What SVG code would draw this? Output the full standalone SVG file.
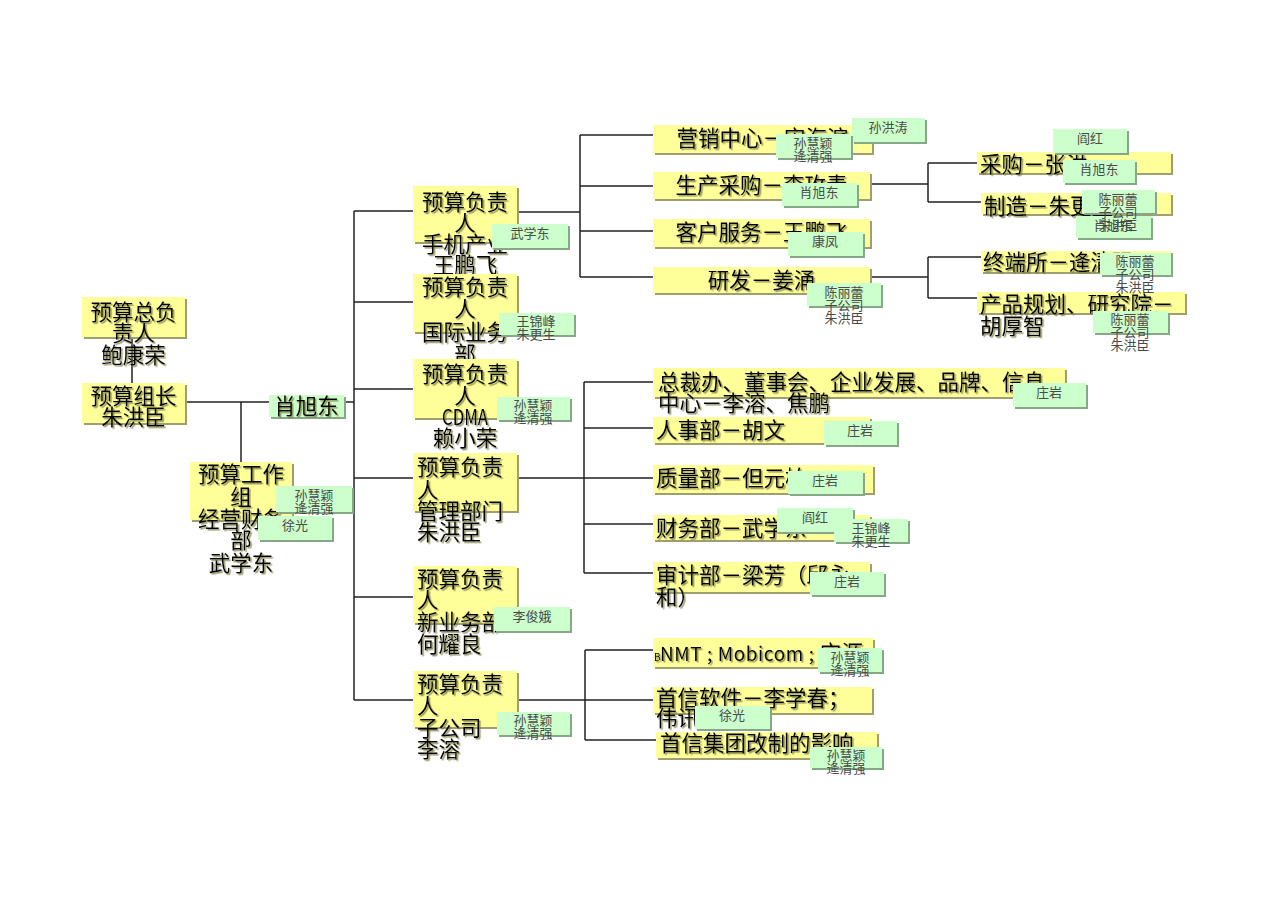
<svg xmlns="http://www.w3.org/2000/svg" width="1286" height="909" viewBox="0 0 1286 909">
<defs>
<filter id="sh" x="-10%" y="-20%" width="130%" height="150%">
<feDropShadow dx="1.5" dy="1.5" stdDeviation="0.4" flood-color="#7d7d45" flood-opacity="0.85"/>
</filter>
<style>
.ys{fill:#9e9e70}
.yb{fill:#FFFF99}
.gs{fill:#86a886}
.gb{fill:#CCFFCC}
.t{font-family:"Noto Sans CJK SC","Liberation Sans",sans-serif;font-size:21.5px;fill:#000;filter:url(#sh)}
.c{text-anchor:middle}
.n{font-family:"Noto Sans CJK SC","Liberation Sans",sans-serif;font-size:13px;fill:#4a4a4a;text-anchor:middle}
.ln{stroke:#222;stroke-width:1.5;fill:none}
</style>
</defs>
<rect width="1286" height="909" fill="#fff"/>
<g id="connectors" class="ln">
<path d="M132 338V383"/>
<path d="M185 402H354"/>
<path d="M241 402V462"/>
<path d="M354 211V700"/>
<path d="M354 211H413M354 302H413M354 389H413M354 478H413M354 597H413M354 700H413"/>
<path d="M517 212H580M580 135V277M580 135H653M580 186H653M580 231H653M580 277H653"/>
<path d="M870 184H928M928 163V202M928 163H977M928 202H981"/>
<path d="M870 277H928M928 257V298M928 257H981M928 298H977"/>
<path d="M517 478H584M584 382V573M584 382H653M584 428H653M584 478H653M584 524H653M584 573H653"/>
<path d="M517 700H585M585 650V740M585 650H653M585 700H653M585 740H656"/>
</g>
<g id="n-bao">
<rect class="ys" x="84" y="299" width="103" height="40"/><rect class="yb" x="82" y="297" width="103" height="40"/>
<text class="t c" x="133.5"><tspan x="133.5" y="320">预算总负</tspan><tspan x="133.5" y="341">责人</tspan><tspan x="133.5" y="363">鲍康荣</tspan></text>
</g>
<g id="n-zhu">
<rect class="ys" x="84" y="385" width="103" height="40"/><rect class="yb" x="82" y="383" width="103" height="40"/>
<text class="t c"><tspan x="133.5" y="404">预算组长</tspan><tspan x="133.5" y="425">朱洪臣</tspan></text>
</g>
<g id="n-xiao">
<rect class="gs" x="271" y="397" width="75" height="22"/><rect class="gb" x="269" y="395" width="75" height="22"/>
<text class="t c" x="306.5" y="414">肖旭东</text>
</g>
<g id="n-work">
<rect class="ys" x="192" y="464" width="102" height="58"/><rect class="yb" x="190" y="462" width="102" height="58"/>
<text class="t c"><tspan x="241" y="482">预算工作</tspan><tspan x="241" y="505">组</tspan><tspan x="241" y="527">经营财务</tspan><tspan x="241" y="548">部</tspan><tspan x="241" y="571">武学东</tspan></text>
</g>
<g id="n-phone">
<rect class="ys" x="415" y="188" width="104" height="56"/><rect class="yb" x="413" y="186" width="104" height="56"/>
<text class="t c"><tspan x="465" y="210">预算负责</tspan><tspan x="465" y="231">人</tspan><tspan x="465" y="252">手机产业</tspan><tspan x="465" y="273">王鹏飞</tspan></text>
</g>
<g id="n-intl">
<rect class="ys" x="415" y="276" width="104" height="58"/><rect class="yb" x="413" y="274" width="104" height="58"/>
<text class="t c"><tspan x="465" y="295">预算负责</tspan><tspan x="465" y="317">人</tspan><tspan x="465" y="340">国际业务</tspan><tspan x="465" y="362">部</tspan></text>
</g>
<g id="n-cdma">
<rect class="ys" x="415" y="361" width="104" height="59"/><rect class="yb" x="413" y="359" width="104" height="59"/>
<text class="t c"><tspan x="465" y="382">预算负责</tspan><tspan x="465" y="404">人</tspan><tspan x="465" y="425" textLength="46" lengthAdjust="spacingAndGlyphs">CDMA</tspan><tspan x="465" y="446">赖小荣</tspan></text>
</g>
<g id="n-mgmt">
<rect class="ys" x="415" y="455" width="104" height="58"/><rect class="yb" x="413" y="453" width="104" height="58"/>
<text class="t"><tspan x="417" y="475">预算负责</tspan><tspan x="417" y="498">人</tspan><tspan x="417" y="519">管理部门</tspan><tspan x="417" y="540">朱洪臣</tspan></text>
</g>
<g id="n-new">
<rect class="ys" x="415" y="568" width="104" height="57"/><rect class="yb" x="413" y="566" width="104" height="57"/>
<text class="t"><tspan x="417" y="587">预算负责</tspan><tspan x="417" y="608">人</tspan><tspan x="417" y="630">新业务部</tspan><tspan x="417" y="652">何耀良</tspan></text>
</g>
<g id="n-sub">
<rect class="ys" x="415" y="673" width="104" height="56"/><rect class="yb" x="413" y="671" width="104" height="56"/>
<text class="t"><tspan x="417" y="692">预算负责</tspan><tspan x="417" y="714">人</tspan><tspan x="417" y="736">子公司</tspan><tspan x="417" y="757">李溶</tspan></text>
</g>
<g id="n-mkt">
<rect class="ys" x="655" y="127" width="219" height="28"/><rect class="yb" x="653" y="125" width="219" height="28"/>
<text class="t c" x="762.5" y="146">营销中心－宋海滨</text>
</g>
<g id="n-prod">
<rect class="ys" x="655" y="174" width="217" height="27"/><rect class="yb" x="653" y="172" width="217" height="27"/>
<text class="t c" x="761.5" y="193">生产采购－李玫青</text>
</g>
<g id="n-cs">
<rect class="ys" x="655" y="221" width="217" height="28"/><rect class="yb" x="653" y="219" width="217" height="28"/>
<text class="t c" x="761.5" y="240">客户服务－王鹏飞</text>
</g>
<g id="n-rd">
<rect class="ys" x="655" y="269" width="217" height="26"/><rect class="yb" x="653" y="267" width="217" height="26"/>
<text class="t c" x="761.5" y="288">研发－姜涌</text>
</g>
<g id="n-buy">
<rect class="ys" x="979" y="154" width="194" height="21"/><rect class="yb" x="977" y="152" width="194" height="21"/>
<text class="t" x="980" y="172">采购－张洪</text>
</g>
<g id="n-make">
<rect class="ys" x="983" y="195" width="190" height="21"/><rect class="yb" x="981" y="193" width="190" height="21"/>
<text class="t" x="984" y="214">制造－朱更生</text>
</g>
<g id="n-term">
<rect class="ys" x="983" y="253" width="190" height="21"/><rect class="yb" x="981" y="251" width="190" height="21"/>
<text class="t" x="983" y="270">终端所－逄清强</text>
</g>
<g id="n-plan">
<rect class="ys" x="979" y="294" width="208" height="21"/><rect class="yb" x="977" y="292" width="208" height="21"/>
<text class="t"><tspan x="980" y="312">产品规划、研究院－</tspan><tspan x="980" y="334">胡厚智</tspan></text>
</g>
<g id="n-office">
<rect class="ys" x="655" y="370" width="412" height="29"/><rect class="yb" x="653" y="368" width="412" height="29"/>
<text class="t"><tspan x="658" y="390">总裁办、董事会、企业发展、品牌、信息</tspan><tspan x="658" y="411">中心－李溶、焦鹏</tspan></text>
</g>
<g id="n-hr">
<rect class="ys" x="655" y="419" width="217" height="26"/><rect class="yb" x="653" y="417" width="217" height="26"/>
<text class="t" x="656" y="438">人事部－胡文</text>
</g>
<g id="n-qa">
<rect class="ys" x="655" y="467" width="220" height="28"/><rect class="yb" x="653" y="465" width="220" height="28"/>
<text class="t" x="656" y="486">质量部－但元柏</text>
</g>
<g id="n-fin">
<rect class="ys" x="655" y="517" width="217" height="25"/><rect class="yb" x="653" y="515" width="217" height="25"/>
<text class="t" x="656" y="536">财务部－武学东</text>
</g>
<g id="n-audit">
<rect class="ys" x="655" y="564" width="217" height="30"/><rect class="yb" x="653" y="562" width="217" height="30"/>
<text class="t"><tspan x="656" y="583">审计部－梁芳（邱永</tspan><tspan x="656" y="605">和）</tspan></text>
</g>
<g id="n-nmt">
<rect class="ys" x="655" y="640" width="220" height="29"/><rect class="yb" x="653" y="638" width="220" height="29"/>
<text class="t" y="661"><tspan x="654" font-size="10">B</tspan><tspan x="660" font-size="19" textLength="154" lengthAdjust="spacing">NMT ; Mobicom ;</tspan><tspan x="820">宝源</tspan></text>
</g>
<g id="n-soft">
<rect class="ys" x="655" y="689" width="219" height="26"/><rect class="yb" x="653" y="687" width="219" height="26"/>
<text class="t"><tspan x="656" y="706">首信软件－李学春；</tspan><tspan x="656" y="726">伟讯</tspan></text>
</g>
<g id="n-group">
<rect class="ys" x="658" y="734" width="221" height="26"/><rect class="yb" x="656" y="732" width="221" height="26"/>
<text class="t" x="660" y="751">首信集团改制的影响</text>
</g>
<g id="notes">
<g id="note1"><rect class="gs" x="278" y="488" width="76" height="26"/><rect class="gb" x="276" y="486" width="76" height="26"/><text class="n"><tspan x="314" y="500">孙慧颖</tspan><tspan x="314" y="513">逄清强</tspan></text></g>
<g id="note2"><rect class="gs" x="260" y="518" width="74" height="24"/><rect class="gb" x="258" y="516" width="74" height="24"/><text class="n" x="295" y="530">徐光</text></g>
<g id="note3"><rect class="gs" x="494" y="226" width="76" height="24"/><rect class="gb" x="492" y="224" width="76" height="24"/><text class="n" x="530" y="238">武学东</text></g>
<g id="note4"><rect class="gs" x="501" y="315" width="75" height="22"/><rect class="gb" x="499" y="313" width="75" height="22"/><text class="n"><tspan x="536" y="326">王锦峰</tspan><tspan x="536" y="339">朱更生</tspan></text></g>
<g id="note5"><rect class="gs" x="499" y="399" width="73" height="23"/><rect class="gb" x="497" y="397" width="73" height="23"/><text class="n"><tspan x="533" y="410">孙慧颖</tspan><tspan x="533" y="423">逄清强</tspan></text></g>
<g id="note6"><rect class="gs" x="496" y="609" width="76" height="24"/><rect class="gb" x="494" y="607" width="76" height="24"/><text class="n" x="532" y="621">李俊娥</text></g>
<g id="note7"><rect class="gs" x="499" y="714" width="73" height="23"/><rect class="gb" x="497" y="712" width="73" height="23"/><text class="n"><tspan x="533" y="725">孙慧颖</tspan><tspan x="533" y="738">逄清强</tspan></text></g>
<g id="note8"><rect class="gs" x="854" y="120" width="73" height="24"/><rect class="gb" x="852" y="118" width="73" height="24"/><text class="n" x="888" y="132">孙洪涛</text></g>
<g id="note9"><rect class="gs" x="778" y="136" width="75" height="24"/><rect class="gb" x="776" y="134" width="75" height="24"/><text class="n"><tspan x="813" y="148">孙慧颖</tspan><tspan x="813" y="161">逄清强</tspan></text></g>
<g id="note10"><rect class="gs" x="784" y="185" width="75" height="23"/><rect class="gb" x="782" y="183" width="75" height="23"/><text class="n" x="819" y="197">肖旭东</text></g>
<g id="note11"><rect class="gs" x="790" y="234" width="75" height="24"/><rect class="gb" x="788" y="232" width="75" height="24"/><text class="n" x="825" y="246">康凤</text></g>
<g id="note12"><rect class="gs" x="809" y="285" width="74" height="23"/><rect class="gb" x="807" y="283" width="74" height="23"/><text class="n"><tspan x="844" y="297">陈丽蕾</tspan><tspan x="844" y="310">子公司</tspan><tspan x="844" y="323">朱洪臣</tspan></text></g>
<g id="note13"><rect class="gs" x="1055" y="131" width="74" height="24"/><rect class="gb" x="1053" y="129" width="74" height="24"/><text class="n" x="1090" y="143">阎红</text></g>
<g id="note14"><rect class="gs" x="1065" y="162" width="72" height="23"/><rect class="gb" x="1063" y="160" width="72" height="23"/><text class="n" x="1099" y="174">肖旭东</text></g>
<g id="note16"><rect class="gs" x="1078" y="218" width="75" height="22"/><rect class="gb" x="1076" y="216" width="75" height="22"/><text class="n" x="1113" y="230">肖旭东</text></g>
<g id="note15"><rect class="gs" x="1084" y="192" width="73" height="23"/><rect class="gb" x="1082" y="190" width="73" height="23"/><text class="n"><tspan x="1118" y="204">陈丽蕾</tspan><tspan x="1118" y="217">子公司</tspan><tspan x="1118" y="230">朱洪臣</tspan></text></g>
<g id="note17"><rect class="gs" x="1102" y="255" width="71" height="22"/><rect class="gb" x="1100" y="253" width="71" height="22"/><text class="n"><tspan x="1135" y="266">陈丽蕾</tspan><tspan x="1135" y="279">子公司</tspan><tspan x="1135" y="292">朱洪臣</tspan></text></g>
<g id="note18"><rect class="gs" x="1095" y="313" width="75" height="22"/><rect class="gb" x="1093" y="311" width="75" height="22"/><text class="n"><tspan x="1130" y="324">陈丽蕾</tspan><tspan x="1130" y="337">子公司</tspan><tspan x="1130" y="350">朱洪臣</tspan></text></g>
<g id="note19"><rect class="gs" x="1015" y="385" width="73" height="24"/><rect class="gb" x="1013" y="383" width="73" height="24"/><text class="n" x="1049" y="397">庄岩</text></g>
<g id="note20"><rect class="gs" x="826" y="423" width="73" height="24"/><rect class="gb" x="824" y="421" width="73" height="24"/><text class="n" x="860" y="435">庄岩</text></g>
<g id="note21"><rect class="gs" x="790" y="473" width="75" height="23"/><rect class="gb" x="788" y="471" width="75" height="23"/><text class="n" x="825" y="485">庄岩</text></g>
<g id="note22"><rect class="gs" x="779" y="510" width="76" height="24"/><rect class="gb" x="777" y="508" width="76" height="24"/><text class="n" x="815" y="522">阎红</text></g>
<g id="note23"><rect class="gs" x="836" y="521" width="74" height="23"/><rect class="gb" x="834" y="519" width="74" height="23"/><text class="n"><tspan x="871" y="533">王锦峰</tspan><tspan x="871" y="546">朱更生</tspan></text></g>
<g id="note24"><rect class="gs" x="812" y="574" width="74" height="23"/><rect class="gb" x="810" y="572" width="74" height="23"/><text class="n" x="847" y="586">庄岩</text></g>
<g id="note25"><rect class="gs" x="820" y="650" width="64" height="24"/><rect class="gb" x="818" y="648" width="64" height="24"/><text class="n"><tspan x="850" y="662">孙慧颖</tspan><tspan x="850" y="675">逄清强</tspan></text></g>
<g id="note26"><rect class="gs" x="697" y="708" width="75" height="23"/><rect class="gb" x="695" y="706" width="75" height="23"/><text class="n" x="732" y="720">徐光</text></g>
<g id="note27"><rect class="gs" x="812" y="749" width="72" height="21"/><rect class="gb" x="810" y="747" width="72" height="21"/><text class="n"><tspan x="846" y="760">孙慧颖</tspan><tspan x="846" y="773">逄清强</tspan></text></g>
</g>
</svg>
